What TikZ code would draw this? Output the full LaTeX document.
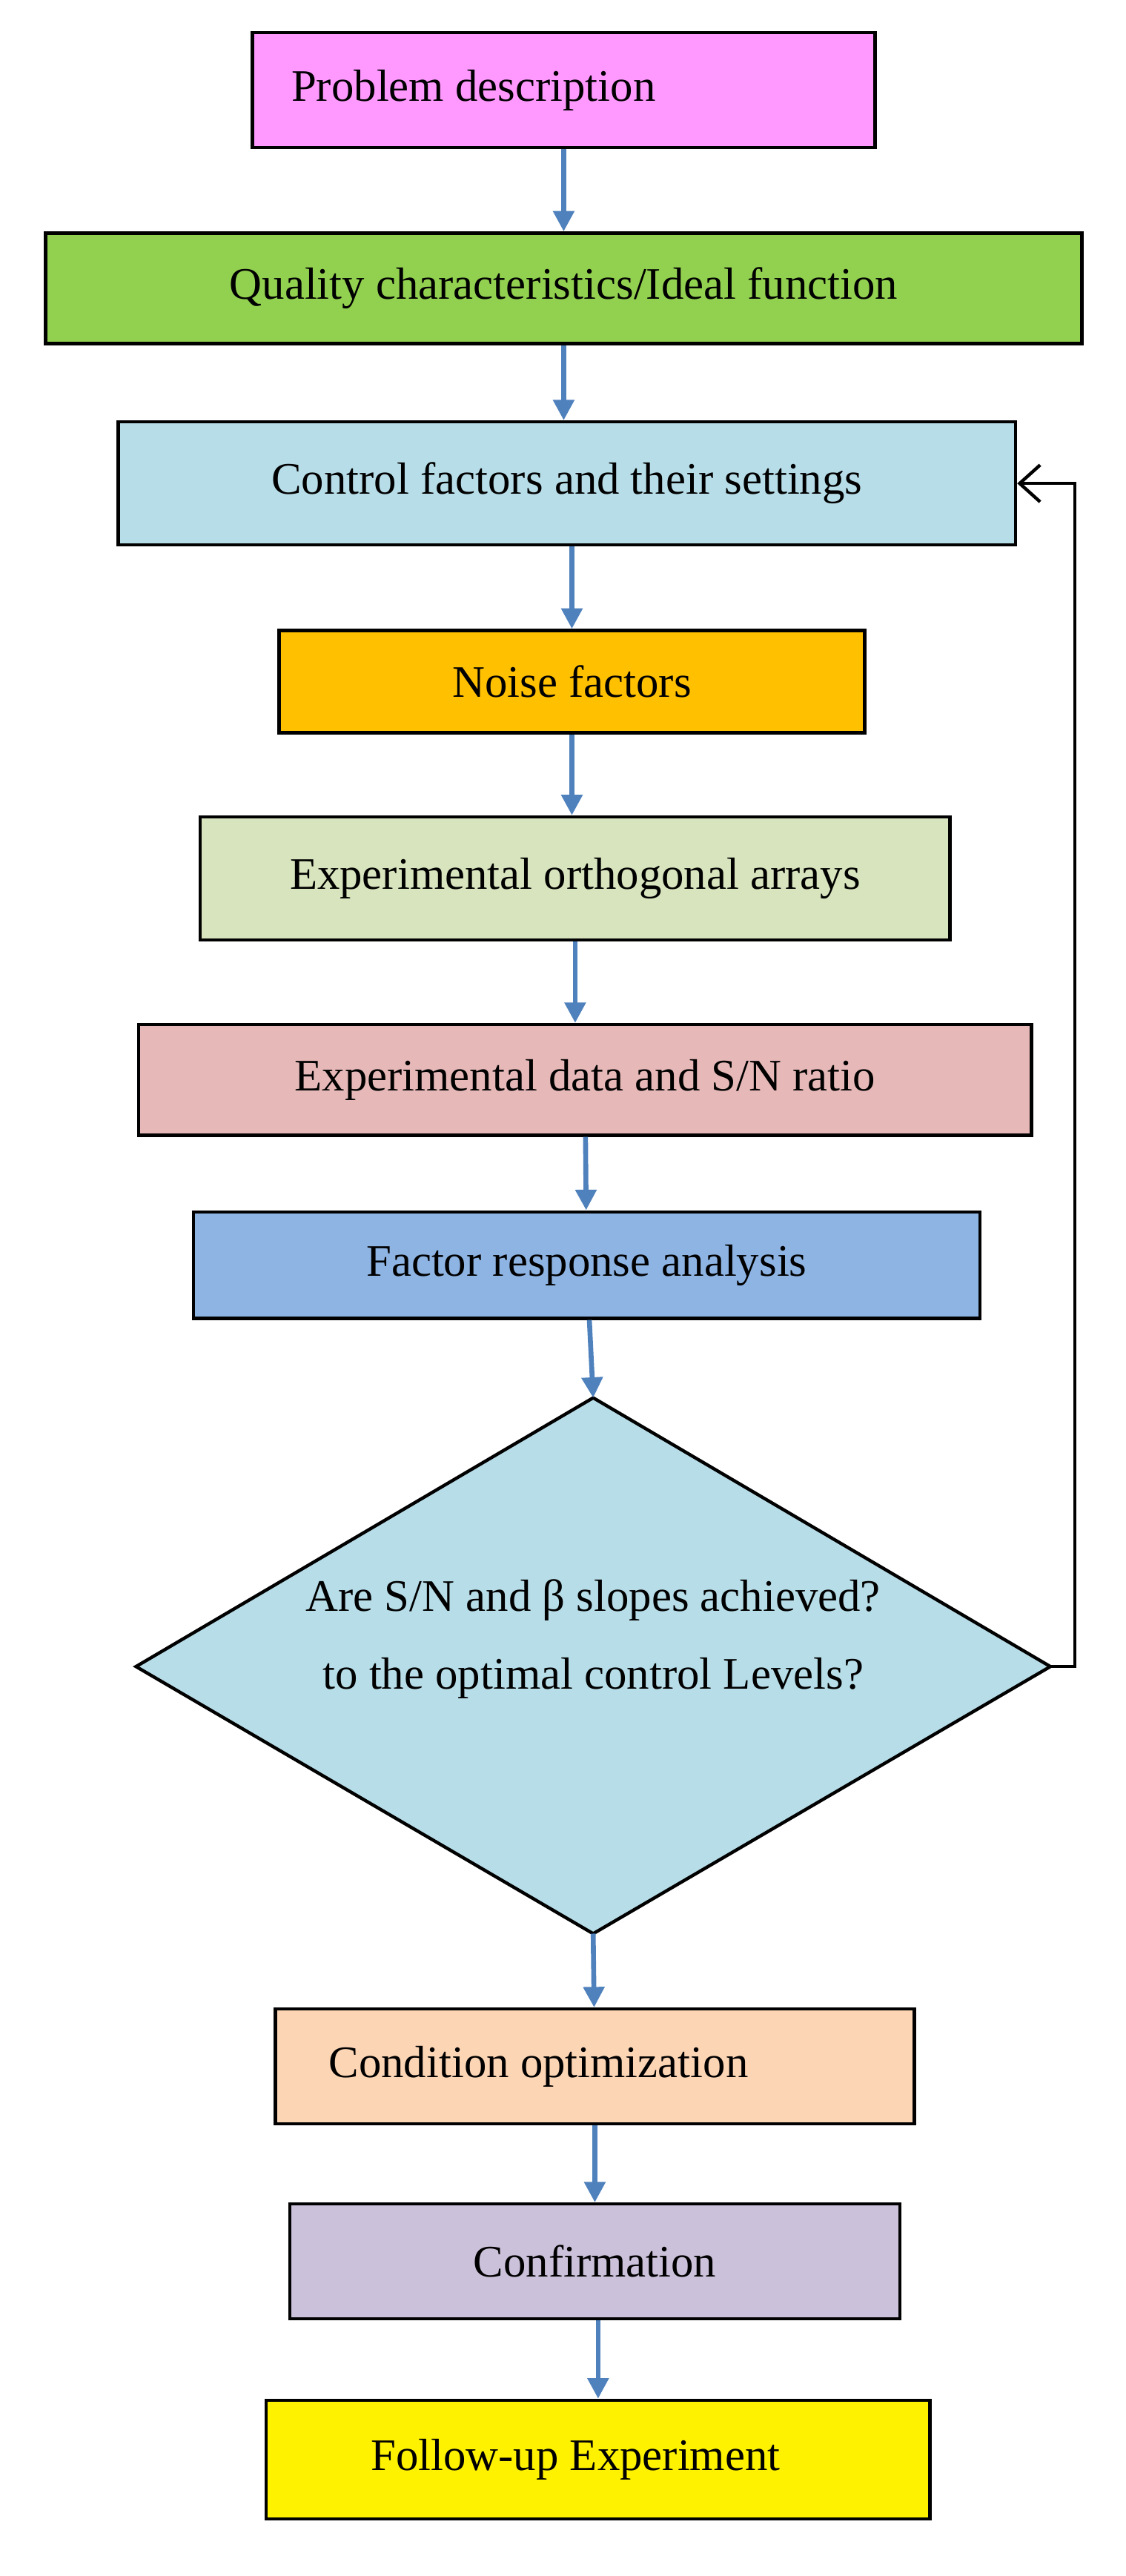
\documentclass[tikz,border=0pt]{standalone}
\usepackage{fontspec}
\setmainfont{Liberation Serif}
\usetikzlibrary{arrows.meta}
\definecolor{flowblue}{HTML}{4F81BD}
\tikzset{
	box/.style={draw=black, thick, rectangle, font=\fontsize{11}{13}\selectfont},
	flow/.style={-{Triangle[width=5pt,length=5pt]}, flowblue, line width=1.2pt},
	back/.style={-{Straight Barb[length=5pt,width=9pt]}, black, thick}
}
\begin{document}
\begin{tikzpicture}[x=0.4pt,y=-0.4pt]
	\useasboundingbox (0,0) rectangle (687,1572);
	% process boxes
	\node[box, fill={rgb,255:red,255;green,153;blue,255}, minimum width=152pt, minimum height=28pt] (prob) at (344,55) {Problem description\hspace*{4em}};
	\node[box, fill={rgb,255:red,146;green,208;blue,80}, minimum width=253pt, minimum height=27pt] (qual) at (344,176) {Quality characteristics/Ideal function};
	\node[box, fill={rgb,255:red,183;green,221;blue,232}, minimum width=219pt, minimum height=30pt] (ctrl) at (346,295) {Control factors and their settings};
	\node[box, fill={rgb,255:red,255;green,192;blue,0}, minimum width=143pt, minimum height=25pt] (noise) at (349,416) {Noise factors};
	\node[box, fill={rgb,255:red,215;green,228;blue,189}, minimum width=183pt, minimum height=30pt] (ortho) at (351,536) {Experimental orthogonal arrays};
	\node[box, fill={rgb,255:red,230;green,185;blue,184}, minimum width=218pt, minimum height=27pt] (data) at (357,659) {Experimental data and S/N ratio};
	\node[box, fill={rgb,255:red,142;green,180;blue,227}, minimum width=192pt, minimum height=26pt] (resp) at (358,772) {Factor response analysis};
	% decision
	\coordinate (decT) at (362,853);
	\coordinate (decB) at (362,1180);
	\coordinate (decL) at (83,1017);
	\coordinate (decR) at (641,1017);
	\draw[thick, fill={rgb,255:red,183;green,221;blue,232}] (decT) -- (decR) -- (decB) -- (decL) -- cycle;
	\node[font=\fontsize{11}{13}\selectfont, align=center] (dec) at (362,1000) {Are S/N and β slopes achieved?\\[6pt]to the optimal control Levels?};
	\node[box, fill={rgb,255:red,252;green,213;blue,181}, minimum width=156pt, minimum height=28pt] (cond) at (363,1261) {Condition optimization\hspace*{2.5em}};
	\node[box, fill={rgb,255:red,204;green,193;blue,218}, minimum width=149pt, minimum height=28pt] (conf) at (363,1380) {Confirmation};
	\node[box, fill=yellow, minimum width=162pt, minimum height=29pt] (follow) at (365,1501) {Follow-up Experiment\hspace*{1em}};
	% flow arrows
	\draw[flow] (prob) -- (qual);
	\draw[flow] (qual) -- (qual|-ctrl.north);
	\draw[flow] (ctrl.south-|noise) -- (noise);
	\draw[flow] (noise) -- (noise|-ortho.north);
	\draw[flow] (ortho) -- (ortho|-data.north);
	\draw[flow] (data) -- (resp);
	\draw[flow] (resp) -- (decT);
	\draw[flow] (decB) -- (cond);
	\draw[flow] (cond) -- (cond|-conf.north);
	\draw[flow] (conf.south-|follow) -- (follow);
	% feedback loop
	\coordinate (fb) at (656,1017);
	\draw[back] (decR) -- (fb) |- (ctrl.east);
\end{tikzpicture}
\end{document}
